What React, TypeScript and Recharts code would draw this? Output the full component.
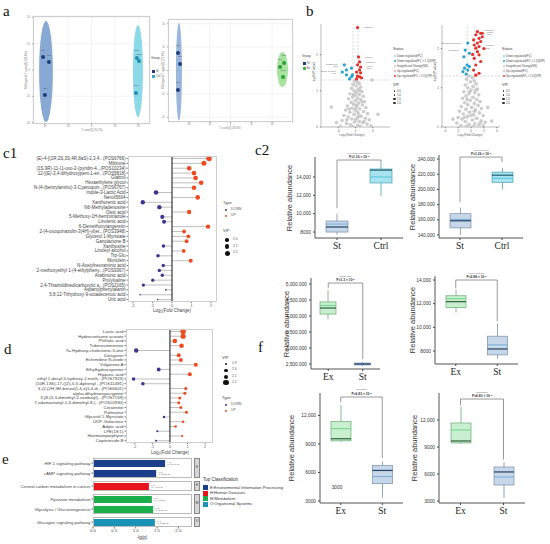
import React from "react";
import {
  ScatterChart, Scatter, XAxis, YAxis, CartesianGrid, ReferenceArea, ReferenceLine,
  ComposedChart, Bar, BarChart, LabelList,
} from "recharts";

const SANS = "'Liberation Sans', Arial, sans-serif";
const NARROW = "'Liberation Sans Narrow', 'Liberation Sans', Arial, sans-serif";
const SERIF = "'Liberation Serif', 'Times New Roman', serif";

const NAVY = "#1f3d7a";
const CYAN = "#35aecb";
const GREEN = "#3fb54c";
const UPRED = "#ee4a1f";
const DOWNBLUE = "#3d3590";

// ---- a: score plots ----
const pcaTicks = [-20, -10, 0, 10, 20];
const pcaLeftSt = [[-20.7, 4.9], [-18.2, 3.0], [-19.9, -9.5]];
const pcaLeftCtrl = [[19.4, 4.6], [20.3, 3.4], [19.0, -8.7]];
const pcaRightSt = [[-25.2, 7.5], [-24.2, 2.8], [-25.2, -8.3]];
const pcaRightEx = [[23.8, 1.5], [25.7, 3.2], [25.2, -2.8]];
const stNames = ["St1", "St2", "St3"];
const ctrlNames = ["Ctrl1", "Ctrl2", "Ctrl3"];
const exNames = ["Ex1", "Ex2", "Ex3"];
// ellipse extents: x1, x2, y1, y2
const ellLeftSt = [-22.4, -16.5, -19.8, 18.6];
const ellLeftCtrl = [17.7, 22.0, -17.9, 17.1];
const ellRightSt = [-26.2, -23.3, -21.5, 20.3];
const ellRightEx = [22.3, 27.6, -7.1, 7.9];

// ---- b: volcano plots ----
const volLeftGray = [
  [-0.2, 1.27], [0.4, 1.24], [0.9, 1.2], [-0.6, 1.18], [0.1, 1.14], [1.2, 1.1], [-0.9, 1.07], [0.6, 1.04],
  [-0.3, 1.0], [1.5, 0.98], [0.2, 0.95], [-1.3, 0.92], [0.9, 0.9], [-0.1, 0.87], [1.8, 0.85], [-0.7, 0.83],
  [0.5, 0.8], [-1.6, 0.78], [1.2, 0.76], [0.0, 0.73], [2.1, 0.7], [-1.0, 0.68], [0.7, 0.66], [-0.4, 0.63],
  [1.6, 0.61], [-1.9, 0.58], [0.3, 0.56], [2.4, 0.54], [-0.8, 0.52], [1.0, 0.5], [-2.3, 0.47], [0.1, 0.45],
  [1.9, 0.43], [-1.3, 0.41], [0.6, 0.39], [2.8, 0.37], [-0.3, 0.35], [-2.7, 0.32], [1.3, 0.3], [-1.7, 0.28],
  [0.4, 0.26], [2.3, 0.24], [-0.9, 0.22], [3.2, 0.2], [-3.1, 0.18], [0.9, 0.16], [-0.2, 0.14], [1.7, 0.12],
  [-2.1, 0.1], [2.7, 0.08], [-1.2, 0.06], [0.5, 0.05], [3.6, 0.03], [-3.5, 0.02], [1.1, 0.02], [-0.6, 0.01],
  [0.2, 0.6], [-0.5, 0.9], [1.0, 1.0], [0.8, 0.3], [-1.5, 0.5], [1.5, 0.7], [-2.0, 0.2], [2.0, 0.15],
  [0.0, 0.2], [-0.1, 0.5], [3.8, 1.3], [-5.6, 0.55], [5.2, 0.35], [-4.4, 0.12],
];
const volLeftUp = [
  [0.47, 2.75, "Miltirone"], [0.7, 1.94, "Glabrol"], [0.94, 1.8, "Monolein"], [0.47, 1.72], [1.18, 1.66, "Oleic acid"],
  [0.94, 1.58], [0.24, 1.52], [1.18, 1.5], [0.47, 1.41], [0.94, 1.39], [0.24, 1.33], [1.4, 1.36],
];
const volLeftDown = [
  [-2.6, 1.72, "Xanthurenic acid"], [-2.1, 1.58], [-0.94, 1.63], [-3.06, 1.52, "Indole-3-Lactic Acid"],
  [-2.1, 1.44], [-0.7, 1.44], [-1.4, 1.33], [-0.94, 1.39],
];
const volRightGray = [
  [-0.3, 1.3], [0.2, 1.26], [-0.7, 1.22], [0.5, 1.18], [-0.1, 1.15], [0.8, 1.1], [-0.9, 1.07], [0.3, 1.03],
  [-0.5, 1.0], [1.0, 0.97], [0.0, 0.94], [-1.1, 0.9], [0.6, 0.88], [-0.3, 0.85], [1.2, 0.82], [-0.8, 0.79],
  [0.3, 0.76], [-1.3, 0.73], [0.9, 0.7], [-0.1, 0.68], [1.4, 0.65], [-1.0, 0.62], [0.5, 0.6], [-0.5, 0.57],
  [1.1, 0.55], [-1.5, 0.52], [0.1, 0.5], [1.6, 0.47], [-0.8, 0.45], [0.7, 0.43], [-1.8, 0.4], [-0.2, 0.38],
  [1.3, 0.36], [-1.2, 0.33], [0.4, 0.31], [1.9, 0.29], [-0.5, 0.27], [-2.0, 0.24], [0.9, 0.22], [-1.4, 0.2],
  [0.2, 0.18], [1.6, 0.16], [-0.9, 0.14], [2.2, 0.12], [-2.2, 0.1], [0.6, 0.08], [-0.3, 0.06], [1.2, 0.05],
  [-1.6, 0.04], [1.9, 0.03], [-0.7, 0.02], [0.3, 0.01], [0.0, 0.3], [-0.6, 0.7], [0.8, 0.95], [-1.0, 0.25],
  [1.4, 0.1], [0.5, 0.4], [-0.2, 0.9], [2.6, 0.5], [-2.8, 0.2], [3.2, 0.15],
];
const volRightUp = [
  [1.0, 2.43, "Vulgarone A"], [1.5, 2.39, "Lactic acid"], [0.75, 2.35], [1.75, 2.3], [1.25, 2.26], [0.4, 2.22],
  [1.5, 2.18], [1.0, 2.14], [0.5, 2.09], [1.25, 2.05, "Hippuric acid"], [0.75, 2.01], [1.0, 1.92], [1.25, 1.84],
  [0.5, 1.75], [1.5, 1.67], [0.75, 1.58], [0.4, 1.45], [1.25, 1.37], [0.75, 1.32], [1.75, 2.39], [2.0, 2.0], [0.25, 1.85],
];
const volRightDown = [
  [-0.5, 2.14, "Ethylhydrocupreine"], [-0.9, 1.96, "Palmatine"], [-0.25, 1.88], [-1.1, 1.79], [-0.6, 1.58],
  [-1.0, 1.5], [-0.5, 1.45], [-1.25, 1.41], [-0.75, 1.35], [-0.25, 1.54],
];
const statusLabels = ["Down-regulated(FC)", "Down-regulated(FC > 1.5)(VIP)", "Insignificant Change(NS)", "Up-regulated(FC)", "Up-regulated(FC > 1.5)(VIP)"];
const statusColors = ["#8fd0ea", "#27a3c9", "#c8c8c8", "#f3a6a6", "#e3312c"];
const volVipLabels = ["0.5", "1.0", "1.5", "2.0"];

// ---- c1: lollipop ----
const c1Names = [
  "(E)-4-[(1R,2S,3S,4R,8aS)-2,3,4...(POS6766)", "Miltirone", "(1S,9R)-11-(1-oxo-2-(pyridin-4...(POS10234)",
  "12-[(E)-3,4-dihydroxypent-1-en...(POS5818)", "Glabrol", "Hexaethylene glycol",
  "N-(4-(benzylamino)-3-Cyanoquin...(POS6767)", "Indole-3-Lactic Acid", "Neruli5604", "Xanthurenic acid",
  "N6-Methyladenosine", "Oleic acid", "5-Methoxy-1H-benzotriazole", "Linolenic acid", "6-Demethoxytangeretin",
  "2-(4-oxoquinazolin-3(4H)-yl)et...(POS3948)", "Glycerol 1-Myristate", "Ganolactone B", "Xanthosine",
  "Linoleyl alcohol", "Trp-Glu", "Monolein", "N-Acetylneuraminic acid", "2-methoxyethyl 1-(4-ethylpheny...(POS9367)",
  "Arabinonic acid", "Prolylvaline", "2,4-Thiazolidinedicarboxylic a...(POS2165)", "Aspartylphenylalanin",
  "5,8,12-Trihydroxy-9-octadecenoic acid", "Uric acid",
];
const c1Fc = [1.9, 1.64, 0.88, 1.13, 1.21, 1.5, 1.13, -0.82, 1.32, -1.5, -0.65, 0.88, -0.5, -0.41, 1.85, 0.62, 0.84, 0.75, -0.44, 0.6, -0.72, 0.96, -0.45, -0.65, -0.5, -0.99, -1.47, -0.32, -1.64, -0.74];
const c1Vip = [2.25, 2.2, 2.15, 2.15, 2.15, 2.15, 2.15, 2.15, 2.15, 2.12, 2.12, 2.12, 2.08, 2.08, 2.12, 2.05, 2.05, 2.05, 2.02, 2.05, 2.02, 2.08, 2.0, 2.0, 2.0, 1.98, 1.98, 1.78, 1.78, 1.78];

// ---- d: lollipop ----
const dNames = [
  "Lactic acid", "Hydrocortisone acetate", "Phthalic acid", "Tuberostemonine", "7a-Hydroxy-cholestene-3-one",
  "Diosgenin", "Echimidine N-oxide", "Vulgarone A", "Ethylhydrocupreine", "Hippuric acid",
  "ethyl 1-decyl-5-hydroxy-2-meth...(POS7923)", "(10R,13S)-17-((Z)-5,5-diphenyl...(POS11481)",
  "3-(2-(2H,3H-benzo[1,4-e]1,4-di...(POS6601)", "alpha-dihydroergocryptine",
  "3-[8-(3,3-dimethyl-2-oxobutyl)...(POS7159)", "7-adamantanyl-1,3-dimethyl-8-(...(POS10930)",
  "Creatinine", "Palmatine", "Glycerol 1-Myristate", "UDP-Galactose", "Adipic acid", "LPE(18:1)",
  "Haematoporphyrin", "Copteroside B",
];
const dFc = [0.75, 0.75, 0.28, 0.66, -1.92, 0.5, 0.62, 1.47, -0.64, 1.13, -2.07, -1.54, 0.9, 0.85, 0.56, 0.5, 0.62, 0.94, -0.34, 0.75, 0.32, -0.72, 0.7, -0.79];
const dVip = [2.22, 2.2, 2.14, 2.14, 2.12, 2.08, 2.08, 2.08, 2.06, 2.08, 2.04, 2.04, 2.0, 2.0, 1.98, 1.98, 1.98, 1.98, 1.92, 1.94, 1.94, 1.9, 1.9, 1.88];
const fcTicks = [-2, -1, 0, 1, 2];

// ---- e: KEGG pathways ----
const eNamesE = ["HIF-1 signaling pathway", "cAMP signaling pathway"];
const eValsE = [1.69, 1.48];
const eNamesH = ["Central carbon metabolism in cancer"];
const eValsH = [1.31];
const eNamesM = ["Pyruvate metabolism", "Glycolysis / Gluconeogenesis"];
const eValsM = [1.38, 1.41];
const eNamesO = ["Glucagon signaling pathway"];
const eValsO = [1.45];
const eClassLabels = ["E:Environmental Information Processing", "H:Human Diseases", "M:Metabolism", "O:Organismal Systems"];
const eClassColors = ["#1b3f8b", "#e8141b", "#1aaf4b", "#1a92b8"];

// ---- c2 / f: box plots [min, q1, median, q3, max] ----
const b1Cats = ["St", "Ctrl"];
const b1Stats = [[7700, 8000, 8550, 9200, 10000], [11930, 13350, 14750, 14870, 15530]];
const b1Means = [8870, 14000];
const b2Cats = ["St", "Ctrl"];
const b2Stats = [[140000, 149300, 158700, 168000, 176000], [200000, 209300, 218700, 222700, 228000]];
const b2Means = [160500, 214700];
const b3Cats = ["Ex", "St"];
const b3Stats = [[3900000, 4060000, 4250000, 4440000, 4810000], [2440000, 2470000, 2500000, 2530000, 2560000]];
const b3Means = [4330000, 2500000];
const b4Cats = ["Ex", "St"];
const b4Stats = [[11250, 11670, 12170, 12670, 13170], [7330, 7670, 8170, 9250, 10330]];
const b4Means = [12420, 8520];
const b5Cats = ["Ex", "St"];
const b5Stats = [[9200, 9320, 9540, 11360, 13070], [3320, 4820, 6210, 6750, 7180]];
const b5Means = [10600, 5570];
const b6Cats = ["Ex", "St"];
const b6Stats = [[9330, 9450, 9670, 11670, 13440], [3330, 4780, 6230, 6780, 7330]];
const b6Means = [10890, 5670];

const PAL: any = {
  St: { fill: "#c6d7ea", edge: "#7b8fa8", med: "#27415f", mean: "#6ea6d6" },
  Ctrl: { fill: "#a8e4f0", edge: "#4a9fb2", med: "#1f5f6f", mean: "#4cc0da" },
  Ex: { fill: "#c8efd0", edge: "#6aa878", med: "#2f5f3a", mean: "#68d080" },
};

// ---------- helpers ----------
function Txt({ x, y, s, c = "#333", f = SANS, a = "l", b = false, rot = 0, children }: any) {
  const tx = a === "c" ? "-50%" : a === "r" ? "-100%" : "0%";
  return (
    <div style={{
      position: "absolute", left: x, top: y, fontSize: s, color: c, fontFamily: f, lineHeight: 1,
      whiteSpace: "nowrap", fontWeight: b ? "bold" : "normal",
      transform: `translate(${tx}, -50%)${rot ? ` rotate(${rot}deg)` : ""}`,
    }}>{children}</div>
  );
}

function PanelLabel({ x, base, children }: any) {
  return (
    <div style={{ position: "absolute", left: x, top: base - 13, fontSize: 15, lineHeight: "15px", fontFamily: SERIF, color: "#111" }}>
      {children}
    </div>
  );
}

function Dot({ x, y, r, c, sq = false }: any) {
  return <div style={{ position: "absolute", left: x - r, top: y - r, width: 2 * r, height: 2 * r, borderRadius: sq ? 0 : "50%", background: c }} />;
}

function Frame({ plot, color = "#cfcfcf" }: any) {
  return (
    <div style={{
      position: "absolute", left: plot.l, top: plot.t, width: plot.r - plot.l, height: plot.b - plot.t,
      border: `1px solid ${color}`, boxSizing: "border-box", pointerEvents: "none",
    }} />
  );
}

const toPts = (a: any[], names?: string[]) => a.map((p: any, i: number) => ({ x: p[0], y: p[1], n: names ? names[i] : p[2] }));

const catTick = (size: number, color = "#444") => (p: any) => (
  <text x={p.x} y={p.y} dy="0.35em" textAnchor="end" fontSize={size} fill={color} fontFamily={SANS}>{p.payload.value}</text>
);

const serifTick = (p: any) => (
  <text x={p.x} y={p.y} dy="0.78em" textAnchor="middle" fontSize={9.5} fill="#222" fontFamily={SERIF}>{p.payload.value}</text>
);

const ellipseShape = (fill: string, op: number) => (p: any) => (
  <ellipse cx={p.x + p.width / 2} cy={p.y + p.height / 2} rx={Math.abs(p.width) / 2} ry={Math.abs(p.height) / 2} fill={fill} fillOpacity={op} />
);

const dotShape = (r: number, c: string, op = 1) => (p: any) => <circle cx={p.cx} cy={p.cy} r={r} fill={c} fillOpacity={op} />;

const fmtAbund = (v: number) => (v >= 10000 ? v.toLocaleString("en-US") : String(v));

// ---------- charts ----------
function PcaPlot({ box, plot, xDomain, yDomain, groups, ells }: any) {
  const yw = 8, xh = 5;
  const margin = { top: plot.t - box.y, left: plot.l - box.x - yw, right: box.x + box.w - plot.r, bottom: box.y + box.h - plot.b - xh };
  return (
    <>
      <div style={{ position: "absolute", left: box.x, top: box.y }}>
        <ScatterChart width={box.w} height={box.h} margin={margin}>
          <CartesianGrid stroke="#ececec" strokeWidth={0.6} />
          <XAxis type="number" dataKey="x" domain={xDomain} ticks={pcaTicks} allowDataOverflow height={xh}
            tick={{ fontSize: 2.6, fill: "#888" }} tickSize={1} tickMargin={0.5} tickLine={{ stroke: "#aaa" }} axisLine={false} />
          <YAxis type="number" dataKey="y" domain={yDomain} ticks={pcaTicks} allowDataOverflow width={yw}
            tick={{ fontSize: 2.6, fill: "#888" }} tickSize={1} tickLine={{ stroke: "#aaa" }} axisLine={false} />
          {ells.map((e: any, i: number) => (
            <ReferenceArea key={i} x1={e.b[0]} x2={e.b[1]} y1={e.b[2]} y2={e.b[3]} ifOverflow="visible" shape={ellipseShape(e.fill, e.op)} />
          ))}
          {groups.map((g: any, i: number) => (
            <Scatter key={i} data={g.data} isAnimationActive={false} shape={dotShape(2, g.color)}>
              <LabelList dataKey="n" position="top" offset={2} fontSize={2.4} fill="#555" />
            </Scatter>
          ))}
        </ScatterChart>
      </div>
      <Frame plot={plot} />
    </>
  );
}

function Volcano({ box, plot, xDomain, yDomain, xTicks, gray, down, up }: any) {
  const yw = 8, xh = 10;
  const margin = { top: plot.t - box.y, left: plot.l - box.x - yw, right: box.x + box.w - plot.r, bottom: box.y + box.h - plot.b - xh };
  const thr = { stroke: "#b5b5b5", strokeDasharray: "2 1.5", strokeWidth: 0.5 };
  return (
    <div style={{ position: "absolute", left: box.x, top: box.y }}>
      <ScatterChart width={box.w} height={box.h} margin={margin}>
        <XAxis type="number" dataKey="x" domain={xDomain} ticks={xTicks} allowDataOverflow height={xh}
          tick={{ fontSize: 3, fill: "#666" }} tickSize={1.2} tickLine={{ stroke: "#777" }} axisLine={{ stroke: "#777", strokeWidth: 0.5 }} />
        <YAxis type="number" dataKey="y" domain={yDomain} ticks={[0, 1, 2]} allowDataOverflow width={yw}
          tick={{ fontSize: 3, fill: "#666" }} tickSize={1.2} tickLine={{ stroke: "#777" }} axisLine={{ stroke: "#777", strokeWidth: 0.5 }} />
        <ReferenceLine y={1.3} {...thr} />
        <ReferenceLine x={-0.58} {...thr} />
        <ReferenceLine x={0.58} {...thr} />
        <Scatter data={gray} isAnimationActive={false} shape={dotShape(1.8, "#c4c4c4", 0.85)} />
        <Scatter data={down} isAnimationActive={false} shape={dotShape(1.6, "#27a3c9")}>
          <LabelList dataKey="n" position="left" offset={2} fontSize={2.3} fill="#666" />
        </Scatter>
        <Scatter data={up} isAnimationActive={false} shape={dotShape(1.6, "#e3312c")}>
          <LabelList dataKey="n" position="right" offset={2} fontSize={2.3} fill="#666" />
        </Scatter>
      </ScatterChart>
    </div>
  );
}

function StatusLegend({ x }: any) {
  return (
    <>
      <Txt x={x} y={50} s={3.6}>Status</Txt>
      {statusLabels.map((l, i) => (
        <React.Fragment key={l}>
          <Dot x={x + 1.5} y={56 + i * 5} r={1} c={statusColors[i]} />
          <Txt x={x + 4} y={56 + i * 5} s={2.8} c="#444">{l}</Txt>
        </React.Fragment>
      ))}
      <Txt x={x} y={86} s={3.6}>VIP</Txt>
      {volVipLabels.map((l, i) => (
        <React.Fragment key={l}>
          <Dot x={x + 1.5} y={91 + i * 4} r={0.7 + i * 0.2} c="#333" />
          <Txt x={x + 4} y={91 + i * 4} s={2.8} c="#444">{l}</Txt>
        </React.Fragment>
      ))}
    </>
  );
}

function Lollipop({ box, plot, names, fc, vip, domain, rad, tickFont }: any) {
  const rows = names.map((n: string, i: number) => ({ name: n, fc: fc[i], vip: vip[i] }));
  const shape = (p: any) => {
    const { x, y, width, height, payload } = p;
    const lo = Math.min(x, x + width), hi = Math.max(x, x + width);
    const up = payload.fc >= 0;
    const end = up ? hi : lo, start = up ? lo : hi;
    const cy = y + height / 2;
    return (
      <g>
        <line x1={start} x2={end} y1={cy} y2={cy} stroke="#a3a3a3" strokeWidth={0.7} />
        <circle cx={end} cy={cy} r={rad(payload.vip)} fill={up ? UPRED : DOWNBLUE} />
      </g>
    );
  };
  return (
    <>
      <div style={{ position: "absolute", left: box.x, top: box.y }}>
        <ComposedChart layout="vertical" width={box.w} height={box.h} data={rows}
          margin={{ top: plot.t - box.y, left: 0, right: box.x + box.w - plot.r, bottom: 0 }}>
          <XAxis type="number" domain={domain} ticks={fcTicks} allowDataOverflow height={box.y + box.h - plot.b}
            tick={{ fontSize: 3.8, fill: "#555", fontFamily: SANS }} tickSize={1.2} tickMargin={0.8} tickLine={{ stroke: "#777" }} axisLine={false} />
          <YAxis type="category" dataKey="name" width={plot.l - box.x} interval={0} tick={catTick(tickFont)}
            tickSize={1.5} tickMargin={1} tickLine={{ stroke: "#777" }} axisLine={false} />
          <ReferenceLine x={0} stroke="#111" strokeWidth={1} />
          <Bar dataKey="fc" shape={shape} isAnimationActive={false} />
        </ComposedChart>
      </div>
      <Frame plot={plot} />
    </>
  );
}

function Facet({ t, b, names, vals, color, axis }: any) {
  const plot = { l: 93, t, r: 192, b };
  const h = (axis ? 534 : b) - t;
  const rows = names.map((n: string, i: number) => ({
    name: n, v: vals[i], lbl: `n=2 (p=${Math.pow(10, -vals[i]).toExponential(2)})`,
  }));
  return (
    <>
      <div style={{ position: "absolute", left: 0, top: t }}>
        <BarChart layout="vertical" width={192} height={h} data={rows} margin={{ top: 0, left: 0, right: 0, bottom: 0 }}>
          <XAxis type="number" domain={[0, 2.32]} ticks={[0, 0.5, 1, 1.5, 2]} allowDataOverflow hide={!axis}
            height={axis ? h - (b - t) : 0} tickFormatter={(v: number) => v.toFixed(1)}
            tick={{ fontSize: 4.3, fill: "#444", fontFamily: SANS }} tickSize={1.5} tickMargin={0.8} tickLine={{ stroke: "#666" }} axisLine={false} />
          <YAxis type="category" dataKey="name" width={93} interval={0} tick={catTick(4.3)}
            tickSize={1.5} tickMargin={1} tickLine={{ stroke: "#666" }} axisLine={false} />
          <Bar dataKey="v" fill={color} barSize={7} isAnimationActive={false}>
            <LabelList dataKey="lbl" position="right" offset={2} fontSize={2.3} fill="#555" />
          </Bar>
        </BarChart>
      </div>
      <Frame plot={plot} color="#bbbbbb" />
      <div style={{
        position: "absolute", left: 194, top: t, width: 6, height: b - t, background: "#d6d6d6",
        border: "0.5px solid #888", boxSizing: "border-box",
      }} />
    </>
  );
}

function BoxPlot({ box, plot, domain, ticks, cats, stats, means, bw, bracket, legs, pText, title, labX }: any) {
  const rows = cats.map((c: string, i: number) => ({ cat: c, range: [stats[i][0], stats[i][4]], s: stats[i], mean: means[i] }));
  const shape = (p: any) => {
    const { x, y, width, height, payload } = p;
    const [mn, q1, md, q3, mx] = payload.s;
    const top = Math.min(y, y + height), hh = Math.abs(height);
    const py = (v: number) => top + (hh * (mx - v)) / (mx - mn);
    const cx = x + width / 2;
    const c = PAL[payload.cat];
    return (
      <g>
        <line x1={cx} x2={cx} y1={py(mx)} y2={py(mn)} stroke={c.edge} strokeWidth={0.8} />
        <rect x={x} y={py(q3)} width={width} height={Math.max(py(q1) - py(q3), 0.8)} fill={c.fill} stroke={c.edge} strokeWidth={0.7} />
        <line x1={x} x2={x + width} y1={py(payload.mean)} y2={py(payload.mean)} stroke={c.mean} strokeWidth={0.9} />
        <line x1={x} x2={x + width} y1={py(md)} y2={py(md)} stroke={c.med} strokeWidth={1.2} />
      </g>
    );
  };
  const bracketShape = (p: any) => (
    <g>
      <line x1={p.x1} y1={p.y1} x2={p.x2} y2={p.y2} stroke="#555" strokeWidth={0.6} />
      <text x={(p.x1 + p.x2) / 2} y={p.y1 - 2} textAnchor="middle" fontSize={3.3} fontWeight="bold" fill="#333" fontFamily={SANS}>
        {`P=${pText} × 10`}<tspan dy={-1} fontSize={2.4}>-2</tspan>
      </text>
      <text x={(p.x1 + p.x2) / 2} y={p.y1 - 6.5} textAnchor="middle" fontSize={2.5} fill="#666" fontFamily={SANS}>{title}</text>
    </g>
  );
  const legLine = { stroke: "#555", strokeWidth: 0.6 };
  return (
    <>
      <div style={{ position: "absolute", left: box.x, top: box.y }}>
        <BarChart width={box.w} height={box.h} data={rows}
          margin={{ top: plot.t - box.y, left: 0, right: box.x + box.w - plot.r, bottom: 0 }}>
          <XAxis dataKey="cat" height={box.y + box.h - plot.b} tick={serifTick} tickSize={2}
            tickLine={{ stroke: "#444" }} axisLine={{ stroke: "#555", strokeWidth: 1 }} />
          <YAxis type="number" domain={domain} ticks={ticks} allowDataOverflow width={plot.l - box.x}
            tickFormatter={fmtAbund} tick={{ fontSize: 4.8, fill: "#333", fontFamily: SANS }} tickSize={2}
            tickLine={{ stroke: "#444" }} axisLine={{ stroke: "#555", strokeWidth: 1 }} />
          <ReferenceLine segment={[{ x: cats[0], y: bracket }, { x: cats[1], y: bracket }]} ifOverflow="visible" shape={bracketShape} />
          <ReferenceLine segment={[{ x: cats[0], y: bracket }, { x: cats[0], y: legs[0] }]} ifOverflow="visible" {...legLine} />
          <ReferenceLine segment={[{ x: cats[1], y: bracket }, { x: cats[1], y: legs[1] }]} ifOverflow="visible" {...legLine} />
          <Bar dataKey="range" barSize={bw} shape={shape} isAnimationActive={false} />
        </BarChart>
      </div>
      <Txt x={labX} y={(plot.t + plot.b) / 2} s={7.5} f={NARROW} c="#333" a="c" rot={-90}>Relative abundance</Txt>
    </>
  );
}

const c1Rad = (v: number) => 1.7 + (v - 2) * 4;
const dRad = (v: number) => 1.6 + (v - 2) * 5;

export default function App() {
  return (
    <div style={{ position: "fixed", left: 0, top: 0, width: 550, height: 544, background: "#fff", overflow: "hidden", fontFamily: SANS }}>
      {/* a */}
      <PcaPlot box={{ x: 20, y: 10, w: 132, h: 121 }} plot={{ l: 33, t: 16, r: 150, b: 124 }}
        xDomain={[-25, 25]} yDomain={[-20.5, 20.5]}
        ells={[{ b: ellLeftSt, fill: "#5f8cc4", op: 0.75 }, { b: ellLeftCtrl, fill: "#6fd0e2", op: 0.8 }]}
        groups={[{ data: toPts(pcaLeftSt, stNames), color: NAVY }, { data: toPts(pcaLeftCtrl, ctrlNames), color: "#1f8fb0" }]} />
      <PcaPlot box={{ x: 160, y: 12, w: 136, h: 119 }} plot={{ l: 168, t: 19, r: 293, b: 122 }}
        xDomain={[-30, 30]} yDomain={[-22, 22]}
        ells={[{ b: ellRightSt, fill: "#6f97cb", op: 0.7 }, { b: ellRightEx, fill: "#8fdc86", op: 0.8 }]}
        groups={[{ data: toPts(pcaRightSt, stNames), color: NAVY }, { data: toPts(pcaRightEx, exNames), color: "#2e9e3c" }]} />
      <Txt x={92} y={130.5} s={2.6} c="#777" a="c">T score[1] (31.2%)</Txt>
      <Txt x={230} y={128.5} s={2.6} c="#777" a="c">T score[1] (28.4%)</Txt>
      <Txt x={26} y={70} s={2.8} c="#777" a="c" rot={-90}>Orthogonal T score[1] (23.4%)</Txt>
      <Txt x={163} y={70} s={2.8} c="#777" a="c" rot={-90}>Orthogonal T score[1] (21.9%)</Txt>
      <Txt x={151} y={59} s={3.2} c="#444">Group</Txt>
      <Dot x={153} y={71} r={1.5} c={NAVY} sq />
      <Txt x={156} y={71} s={2.8} c="#444">St</Txt>
      <Dot x={153} y={76} r={1.5} c={CYAN} sq />
      <Txt x={156} y={76} s={2.8} c="#444">Ctrl</Txt>
      <Txt x={302} y={57} s={3.2} c="#444">Group</Txt>
      <Dot x={304} y={63} r={1.5} c={NAVY} sq />
      <Txt x={307} y={63} s={2.8} c="#444">St</Txt>
      <Dot x={304} y={68} r={1.5} c={GREEN} sq />
      <Txt x={307} y={68} s={2.8} c="#444">Ex</Txt>

      {/* b */}
      <Volcano box={{ x: 305, y: 18, w: 88, h: 119 }} plot={{ l: 321, t: 24, r: 390, b: 127 }}
        xDomain={[-8, 8]} yDomain={[0, 2.85]} xTicks={[-4, 0, 4]}
        gray={toPts(volLeftGray)} down={toPts(volLeftDown)} up={toPts(volLeftUp)} />
      <Volcano box={{ x: 428, y: 18, w: 75, h: 119 }} plot={{ l: 442, t: 25, r: 500, b: 127 }}
        xDomain={[-4.5, 4.5]} yDomain={[0, 2.6]} xTicks={[-4, -2, 0, 2, 4]}
        gray={toPts(volRightGray)} down={toPts(volRightDown)} up={toPts(volRightUp)} />
      <Txt x={314} y={72} s={3} c="#666" a="c" rot={-90}>-log10(P-value)</Txt>
      <Txt x={435} y={72} s={3} c="#666" a="c" rot={-90}>-log10(P-value)</Txt>
      <Txt x={352} y={135} s={3} c="#666" a="c">Log₂(Fold Change)</Txt>
      <Txt x={470} y={135} s={3} c="#666" a="c">Log₂(Fold Change)</Txt>
      <StatusLegend x={393} />
      <StatusLegend x={502} />

      {/* c1 */}
      <Lollipop box={{ x: 0, y: 150, w: 222, h: 165 }} plot={{ l: 128, t: 156, r: 217, b: 302 }}
        names={c1Names} fc={c1Fc} vip={c1Vip} domain={[-2.26, 2.31]} rad={c1Rad} tickFont={4.5} />
      <Txt x={172} y={311} s={4.5} c="#444" a="c">Log₂(Fold Change)</Txt>
      <Txt x={223} y={203} s={4} c="#444">Type</Txt>
      <Dot x={226} y={210} r={1} c={DOWNBLUE} />
      <Txt x={231} y={210} s={3.3} c="#555">DOWN</Txt>
      <Dot x={226} y={216} r={1} c={UPRED} />
      <Txt x={231} y={216} s={3.3} c="#555">UP</Txt>
      <Txt x={223} y={231} s={4} c="#444">VIP</Txt>
      {[2.0, 2.1, 2.2].map((v, i) => (
        <React.Fragment key={v}>
          <Dot x={227} y={240 + i * 6.5} r={c1Rad(v)} c="#111" />
          <Txt x={233} y={240 + i * 6.5} s={3.3} c="#555">{v.toFixed(1)}</Txt>
        </React.Fragment>
      ))}

      {/* d */}
      <Lollipop box={{ x: 0, y: 322, w: 218, h: 133 }} plot={{ l: 126, t: 329, r: 213, b: 443 }}
        names={dNames} fc={dFc} vip={dVip} domain={[-2.5, 2.45]} rad={dRad} tickFont={4.4} />
      <Txt x={170} y={453} s={4.5} c="#444" a="c">Log₂(Fold Change)</Txt>
      <Txt x={222} y={358} s={4} c="#444">VIP</Txt>
      {[1.9, 2.0, 2.1, 2.2].map((v, i) => (
        <React.Fragment key={v}>
          <Dot x={226} y={364 + i * 6.3} r={dRad(v)} c="#111" />
          <Txt x={232} y={364 + i * 6.3} s={3.3} c="#555">{v.toFixed(1)}</Txt>
        </React.Fragment>
      ))}
      <Txt x={222} y={398} s={4} c="#444">Type</Txt>
      <Dot x={226} y={405} r={0.9} c={DOWNBLUE} />
      <Txt x={231} y={405} s={3.3} c="#555">DOWN</Txt>
      <Dot x={226} y={411} r={0.9} c={UPRED} />
      <Txt x={231} y={411} s={3.3} c="#555">UP</Txt>

      {/* e */}
      <Facet t={458} b={478} names={eNamesE} vals={eValsE} color={eClassColors[0]} />
      <Facet t={481} b={491} names={eNamesH} vals={eValsH} color={eClassColors[1]} />
      <Facet t={494} b={514} names={eNamesM} vals={eValsM} color={eClassColors[2]} />
      <Facet t={517} b={527} names={eNamesO} vals={eValsO} color={eClassColors[3]} axis />
      {["E", "H", "M", "O"].map((l, i) => (
        <Txt key={l} x={197} y={[468, 486, 504, 522][i]} s={3.2} c="#333" a="c">{l}</Txt>
      ))}
      <Txt x={142} y={538} s={4.5} c="#333" a="c">-lg(p)</Txt>
      <Txt x={203} y={480} s={4.5} c="#333">Top Classification</Txt>
      {eClassLabels.map((l, i) => (
        <React.Fragment key={l}>
          <div style={{ position: "absolute", left: 203, top: 485 + i * 5.6, width: 5, height: 5, background: eClassColors[i] }} />
          <Txt x={210} y={487.5 + i * 5.6} s={4.1} c="#333">{l}</Txt>
        </React.Fragment>
      ))}

      {/* c2 and f box plots */}
      <BoxPlot box={{ x: 280, y: 140, w: 128, h: 117 }} plot={{ l: 315, t: 157, r: 403, b: 238 }}
        domain={[7350, 16180]} ticks={[8000, 10000, 12000, 14000]} cats={b1Cats} stats={b1Stats} means={b1Means}
        bw={22} bracket={15850} legs={[10600, 15550]} pText="1.16" title="N6-Methyladenosine" labX={290} />
      <BoxPlot box={{ x: 405, y: 140, w: 123, h: 117 }} plot={{ l: 439, t: 155, r: 523, b: 238 }}
        domain={[136000, 245300]} ticks={[140000, 160000, 180000, 200000, 220000, 240000]} cats={b2Cats} stats={b2Stats} means={b2Means}
        bw={21} bracket={242600} legs={[183400, 236000]} pText="1.26" title="Linolenic acid" labX={413} />
      <BoxPlot box={{ x: 278, y: 262, w: 106, h: 125 }} plot={{ l: 311, t: 278, r: 380, b: 369 }}
        domain={[2343750, 5187500]} ticks={[2500000, 3000000, 3500000, 4000000, 4500000, 5000000]} cats={b3Cats} stats={b3Stats} means={b3Means}
        bw={16} bracket={5030000} legs={[4880000, 2650000]} pText="1.3" title="Lactic acid" labX={287} />
      <BoxPlot box={{ x: 405, y: 262, w: 118, h: 120 }} plot={{ l: 435, t: 276, r: 518, b: 364 }}
        domain={[6900, 14340]} ticks={[8000, 10000, 12000, 14000]} cats={b4Cats} stats={b4Stats} means={b4Means}
        bw={20} bracket={14000} legs={[13300, 10500]} pText="2.88" title="Phenylalanine" labX={413} />
      <BoxPlot box={{ x: 283, y: 378, w: 124, h: 144 }} plot={{ l: 320, t: 393, r: 403, b: 503 }}
        domain={[2790, 14350]} ticks={[3000, 6000, 9000, 12000]} cats={b5Cats} stats={b5Stats} means={b5Means}
        bw={20} bracket={13930} legs={[13400, 7500]} pText="6.83" title="Palmatine" labX={292} />
      <BoxPlot box={{ x: 405, y: 378, w: 125, h: 144 }} plot={{ l: 439, t: 393, r: 525, b: 503 }}
        domain={[2780, 15000]} ticks={[3000, 6000, 9000, 12000]} cats={b6Cats} stats={b6Stats} means={b6Means}
        bw={20} bracket={14330} legs={[13600, 7600]} pText="6.83" title="Palmatine" labX={415} />
      <Txt x={337} y={488} s={4.8} c="#333" a="c">3000</Txt>

      {/* panel letters */}
      <PanelLabel x={3} base={17}>a</PanelLabel>
      <PanelLabel x={306} base={17}>b</PanelLabel>
      <PanelLabel x={3} base={159}>c1</PanelLabel>
      <PanelLabel x={255} base={156}>c2</PanelLabel>
      <PanelLabel x={4} base={355}>d</PanelLabel>
      <PanelLabel x={2} base={465}>e</PanelLabel>
      <PanelLabel x={258} base={353}>f</PanelLabel>
    </div>
  );
}
